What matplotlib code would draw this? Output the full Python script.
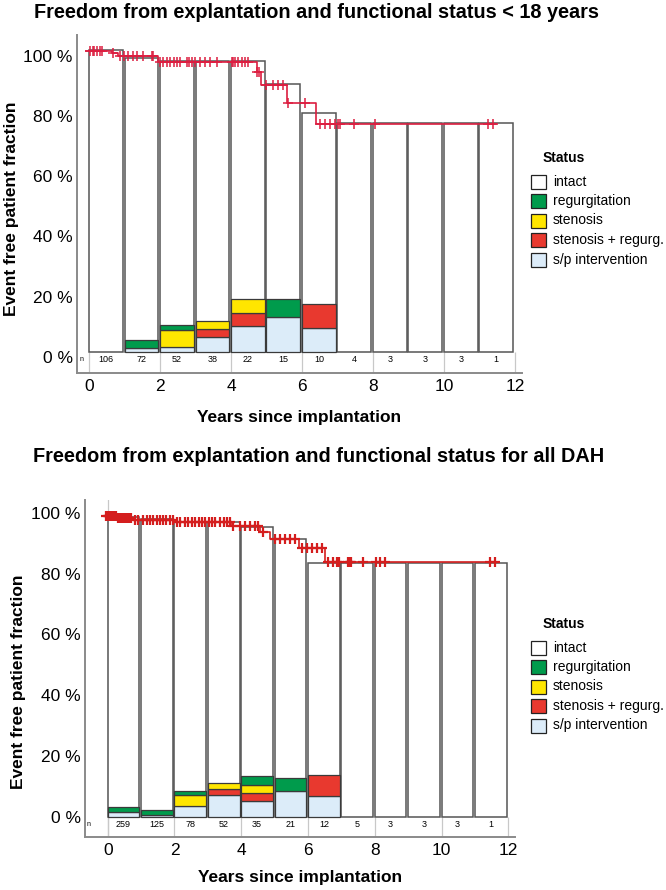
import matplotlib
matplotlib.use("Agg")
import matplotlib.pyplot as plt
from matplotlib.patches import Rectangle
import numpy as np

plt.rcParams['font.family'] = ['Liberation Sans', 'DejaVu Sans']

W, H = 666, 890

# ---- data: upper panel (< 18 years) ----
years = np.arange(12)
n_top = [106, 72, 52, 38, 22, 15, 10, 4, 3, 3, 3, 1]
total_top = [100.3, 97.5, 96.8, 96.8, 96.7, 89.0, 79.5, 76, 76, 76, 76, 76]
sp_top = [0, 1.2, 1.7, 5.0, 8.7, 11.6, 7.8, 0, 0, 0, 0, 0]
stenreg_top = [0, 0, 0, 2.6, 4.4, 0, 8.1, 0, 0, 0, 0, 0]
sten_top = [0, 0, 5.5, 2.7, 4.4, 0, 0, 0, 0, 0, 0, 0]
regurg_top = [0, 2.8, 1.8, 0, 0, 6.1, 0, 0, 0, 0, 0, 0]

km_t_top = [-0.08, 0.65, 0.82, 1.95, 4.72, 4.85, 5.58, 6.4, 11.48]
km_s_top = [100, 99.3, 98.2, 96.4, 93.1, 88.7, 82.8, 75.7, 75.7]
cens_top = [0.02, 0.1, 0.15, 0.22, 0.3, 0.37, 0.68, 0.87, 0.99, 1.1, 1.24, 1.35,
            1.52, 1.77, 1.8, 2.0, 2.09, 2.19, 2.28, 2.38, 2.47, 2.56, 2.75, 2.83,
            2.89, 2.99, 3.13, 3.27, 3.41, 3.6, 4.02, 4.07, 4.11, 4.2, 4.3, 4.39,
            4.49, 4.74, 4.8, 5.0, 5.19, 5.33, 5.47, 5.62, 6.08, 6.5, 6.65, 6.79,
            6.93, 7.02, 7.07, 7.46, 8.06, 11.25, 11.39]

# ---- data: lower panel (all DAH) ----
n_bot = [259, 125, 78, 52, 35, 21, 12, 5, 3, 3, 3, 1]
total_bot = [99.6, 99.0, 98.1, 97.9, 96.3, 92.4, 84.5, 84.5, 84.5, 84.5, 84.5, 84.5]
sp_bot = [1.6, 0.6, 3.6, 7.3, 5.2, 8.6, 6.9, 0, 0, 0, 0, 0]
stenreg_bot = [0, 0, 0, 2.0, 2.8, 0, 7.1, 0, 0, 0, 0, 0]
sten_bot = [0, 0, 3.6, 1.9, 2.8, 0, 0, 0, 0, 0, 0, 0]
regurg_bot = [1.8, 1.7, 1.6, 0, 2.7, 4.4, 0, 0, 0, 0, 0, 0]

km_t_bot = [-0.1, 0.28, 0.77, 1.98, 3.7, 4.55, 4.85, 5.72, 6.52, 11.69]
km_s_bot = [100, 99.4, 98.7, 97.9, 96.7, 94.8, 92.3, 89.3, 84.6, 84.6]
cens_bot = [-0.05, 0.0, 0.04, 0.08, 0.12, 0.16, 0.2, 0.24, 0.3, 0.35, 0.4, 0.45,
            0.5, 0.55, 0.6, 0.65, 0.7, 0.82, 0.92, 1.07, 1.17, 1.27, 1.37, 1.47,
            1.57, 1.66, 1.76, 1.86, 1.96, 2.07, 2.17, 2.32, 2.42, 2.52, 2.62, 2.72,
            2.82, 2.92, 3.02, 3.12, 3.22, 3.37, 3.47, 3.57, 3.66, 3.76, 3.96, 4.11,
            4.26, 4.41, 4.51, 4.66, 5.01, 5.16, 5.31, 5.46, 5.61, 5.81, 5.96, 6.11,
            6.26, 6.41, 6.6, 6.75, 6.87, 6.93, 7.2, 7.25, 7.3, 7.65, 8.05, 8.15,
            8.3, 11.45, 11.6]

pct_ticks = [0, 20, 40, 60, 80, 100]
status_labels = ['intact', 'regurgitation', 'stenosis', 'stenosis + regurg.', 's/p intervention']
status_colors = ['#ffffff', '#009b4c', '#ffe600', '#e8392f', '#dcecf9']


def px_box(l, t, r, b):
    return [l / W, 1 - b / H, (r - l) / W, (b - t) / H]


def draw_panel(ax, n, total, sp, stenreg, sten, regurg, km_t, km_s, cens,
               km_color, xlim, ylim, tick_scale, tick_off, full_zero_line, mew, xpad):
    ax.set_xlim(*xlim)
    ax.set_ylim(*ylim)
    bw = 0.95
    if full_zero_line:
        ax.axvline(0, color='#c8c8c8', lw=0.9, zorder=0)
    ax.vlines(np.arange(0, 13, 2), ylim[0], 0, color='#c8c8c8', lw=0.9, zorder=0)
    ax.bar(years, total, width=bw, align='edge', color='white',
           edgecolor='#555555', linewidth=1.1, zorder=1)
    bottom = np.zeros(12)
    for vals, col in [(sp, status_colors[4]), (stenreg, status_colors[3]),
                      (sten, status_colors[2]), (regurg, status_colors[1])]:
        vals = np.array(vals, dtype=float)
        m = vals > 0
        ax.bar(years[m], vals[m], bottom=bottom[m], width=bw, align='edge',
               color=col, edgecolor='#3a3a3a', linewidth=0.9, zorder=2)
        bottom += vals
    ax.step(km_t, km_s, where='post', color=km_color, lw=1.2, zorder=3)
    idx = np.searchsorted(km_t, cens, side='right') - 1
    ax.plot(cens, np.array(km_s)[idx], '+', color=km_color, ms=7, mew=mew, zorder=4)
    for i, v in enumerate(n):
        ax.text(i + bw / 2, -2.6, str(v), ha='center', va='center', fontsize=6.5)
    ax.text(xlim[0] + 0.12, -2.6, 'n', ha='center', va='center', fontsize=5)
    ax.set_yticks(np.array(pct_ticks) * tick_scale + tick_off)
    ax.set_yticklabels([f'{t} %' for t in pct_ticks], fontsize=12)
    ax.set_xticks(np.arange(0, 13, 2))
    ax.tick_params(length=0, labelsize=12.5)
    ax.tick_params(axis='y', pad=3)
    ax.tick_params(axis='x', pad=4)
    for s in ['top', 'right']:
        ax.spines[s].set_visible(False)
    for s in ['left', 'bottom']:
        ax.spines[s].set_color('#8a8a8a')
        ax.spines[s].set_linewidth(1.4)
    ax.set_xlabel('Years since implantation', fontsize=12.5, fontweight='bold', labelpad=xpad)
    ax.set_ylabel('Event free patient fraction', fontsize=12.5, fontweight='bold', va='center')


def draw_legend(fig, status_y):
    fig.text(543 / W, 1 - status_y / H, 'Status', fontsize=10, fontweight='bold',
             ha='left', va='center')
    for k, (lab, col) in enumerate(zip(status_labels, status_colors)):
        yc = status_y + 23.5 + 19.5 * k
        fig.patches.append(Rectangle((531 / W, 1 - (yc + 7) / H), 15 / W, 14 / H,
                                     transform=fig.transFigure, facecolor=col,
                                     edgecolor='#222222', linewidth=0.9))
        fig.text(553 / W, 1 - yc / H, lab, fontsize=10, ha='left', va='center')


fig = plt.figure(figsize=(W / 100, H / 100), dpi=100)

ax1 = fig.add_axes(px_box(77, 35, 522, 373))
draw_panel(ax1, n_top, total_top, sp_top, stenreg_top, sten_top, regurg_top,
           km_t_top, km_s_top, cens_top, '#dc1e40', (-0.34, 12.2), (-7.0, 105.3),
           1.0, -1.6, False, 1.1, 12)
ax1.yaxis.set_label_coords((12 - 77) / 445, 0.485)
fig.text(317 / W, 1 - 13 / H, 'Freedom from explantation and functional status < 18 years',
         fontsize=14.3, fontweight='bold', ha='center', va='center')
draw_legend(fig, 158)

ax2 = fig.add_axes(px_box(85, 500, 515, 837))
draw_panel(ax2, n_bot, total_bot, sp_bot, stenreg_bot, sten_bot, regurg_bot,
           km_t_bot, km_s_bot, cens_bot, '#d41e1e', (-0.68, 12.2), (-6.6, 105.3),
           1.011, 0.0, True, 1.6, 9)
ax2.yaxis.set_label_coords((19 - 85) / 430, 0.46)
fig.text(319 / W, 1 - 457 / H, 'Freedom from explantation and functional status for all DAH',
         fontsize=14.3, fontweight='bold', ha='center', va='center')
draw_legend(fig, 624)

fig.savefig('out.png', dpi=100)
